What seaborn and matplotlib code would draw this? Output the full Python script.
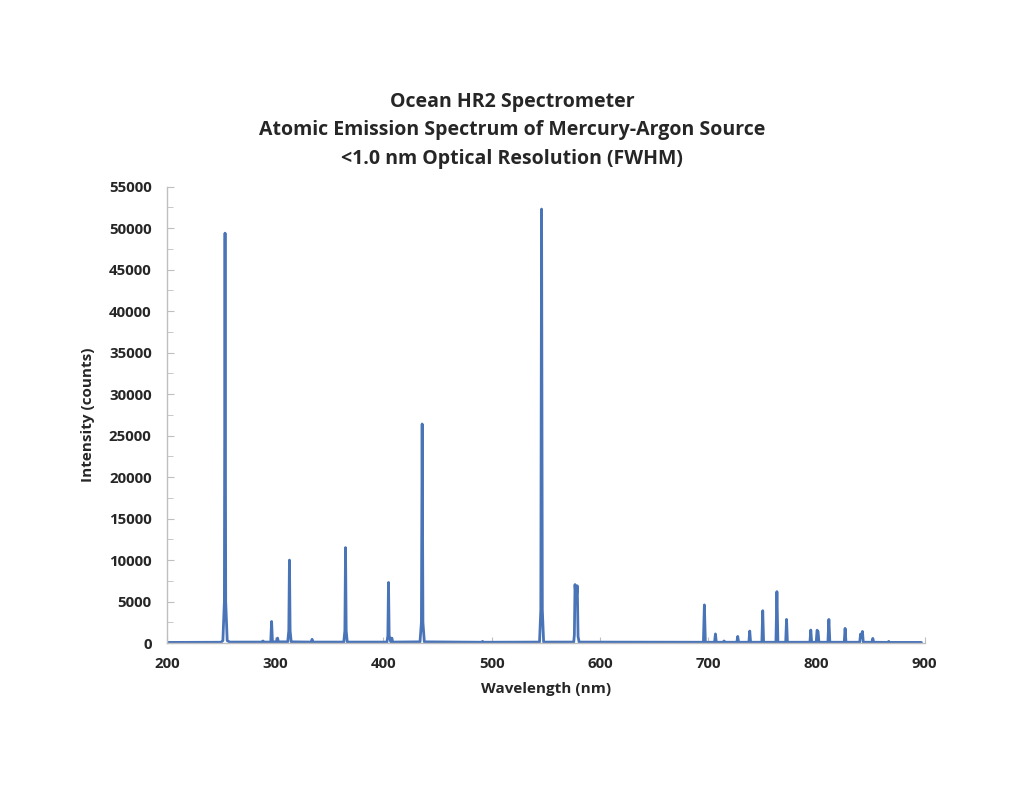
import matplotlib
matplotlib.use("Agg")
import matplotlib.pyplot as plt
from matplotlib.ticker import MultipleLocator
import seaborn as sns
import pandas as pd

# Spectrum points (wavelength in nm, intensity in counts)
wavelength_nm = [
    200, 250, 251.7, 253.1, 253.7, 254.3, 255.7, 258,
    288, 288.7, 289.4,
    295.9, 296.7, 297.5,
    301.3, 302.2, 303.0,
    311.6, 312.6, 313.2, 313.8, 314.8,
    333.2, 334.1, 335.0,
    363.4, 364.4, 365.0, 365.6, 366.6,
    403.3, 404.1, 404.7, 405.3, 406.9, 407.8, 408.6,
    433.8, 435.1, 435.8, 436.5, 437.8,
    491.0, 491.6, 492.2,
    544.2, 545.4, 546.1, 546.8, 548.0,
    575.8, 576.4, 577.0, 578.0, 579.1, 579.8, 580.8,
    695.6, 696.5, 697.4,
    705.9, 706.7, 707.5,
    714.0, 714.7, 715.4,
    726.5, 727.3, 728.1,
    737.6, 738.4, 739.2,
    749.6, 750.4, 751.2,
    762.6, 763.5, 764.4,
    771.6, 772.4, 773.2,
    794.0, 794.8, 795.6,
    799.8, 800.6, 801.5, 802.3,
    810.6, 811.5, 812.4,
    825.7, 826.5, 827.3,
    840.0, 840.8, 841.6, 842.5, 843.3,
    851.3, 852.1, 852.9,
    866.0, 866.8, 867.6,
    897,
]
intensity_counts = [
    80, 100, 300, 5000, 49400, 5000, 300, 120,
    120, 250, 120,
    120, 2600, 150,
    150, 600, 150,
    150, 1500, 10000, 1500, 150,
    120, 450, 120,
    120, 1500, 11500, 1500, 120,
    120, 900, 7300, 900, 150, 600, 120,
    150, 2500, 26400, 2500, 150,
    100, 200, 100,
    120, 4000, 52300, 4000, 120,
    120, 1000, 7050, 5000, 6900, 800, 120,
    100, 4600, 100,
    100, 1100, 100,
    100, 250, 100,
    100, 800, 100,
    100, 1450, 100,
    100, 3900, 100,
    100, 6200, 100,
    100, 2850, 100,
    100, 1570, 100,
    100, 1550, 1400, 100,
    100, 2850, 100,
    100, 1770, 100,
    100, 1085, 700, 1400, 100,
    100, 560, 100,
    80, 200, 80,
    80,
]

title_lines = ["Ocean HR2 Spectrometer",
               "Atomic Emission Spectrum of Mercury-Argon Source",
               "<1.0 nm Optical Resolution (FWHM)"]
x_label = "Wavelength (nm)"
y_label = "Intensity (counts)"

df = pd.DataFrame({"wavelength": wavelength_nm, "intensity": intensity_counts})

sns.set_style("white")
plt.rcParams["font.family"] = ["Open Sans", "DejaVu Sans"]

fig = plt.figure(figsize=(10.24, 7.91), dpi=100)
ax = fig.add_axes([0.163, 0.187, 0.740, 0.577])

sns.lineplot(data=df, x="wavelength", y="intensity", ax=ax,
             color="#4a74b8", linewidth=2.0, estimator=None, sort=False)

ax.set_xlim(200, 900)
ax.set_ylim(0, 55000)
ax.xaxis.set_major_locator(MultipleLocator(100))
ax.yaxis.set_major_locator(MultipleLocator(5000))
ax.yaxis.set_minor_locator(MultipleLocator(2500))

for s in ["top", "right"]:
    ax.spines[s].set_visible(False)
for s in ["left", "bottom"]:
    ax.spines[s].set_color("#bfbfbf")
    ax.spines[s].set_linewidth(1.0)

ax.tick_params(axis="y", which="major", direction="in", length=5, color="#bfbfbf",
               left=True, labelsize=10.8, pad=11)
ax.tick_params(axis="y", which="minor", direction="in", length=4, color="#bfbfbf", left=True)
ax.tick_params(axis="x", which="major", direction="in", length=4, color="#bfbfbf",
               bottom=True, labelsize=10.8, pad=10)
for lab in ax.get_xticklabels() + ax.get_yticklabels():
    lab.set_fontweight("bold")

ax.set_xlabel(x_label, fontsize=11, fontweight="bold", labelpad=8)
ax.set_ylabel(y_label, fontsize=11, fontweight="bold", labelpad=10)
fig.suptitle("\n".join(title_lines), x=0.5, y=0.884, fontsize=14, fontweight="bold",
             linespacing=1.56, va="top")

fig.savefig("out.png", dpi=100, facecolor="white")
